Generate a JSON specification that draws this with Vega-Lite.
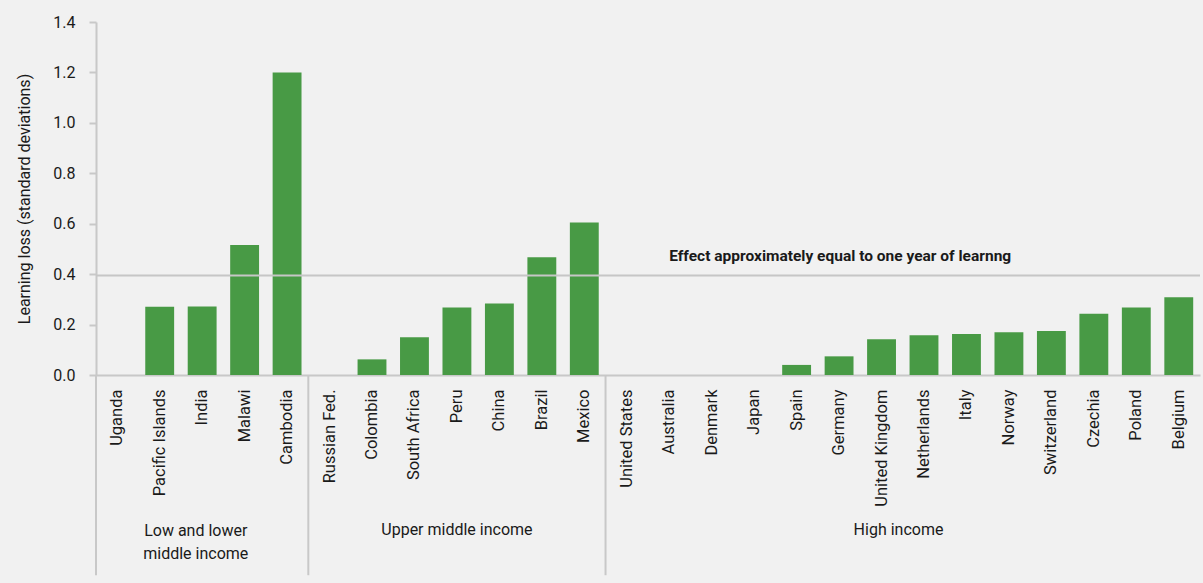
{
  "$schema": "https://vega.github.io/schema/vega-lite/v6.json",
  "width": 1104,
  "height": 353,
  "autosize": {"type": "none"},
  "padding": {"left": 96, "top": 22, "right": 3, "bottom": 208},
  "background": "#f1f1f1",
  "config": {
    "view": {"stroke": null},
    "font": "Roboto",
    "text": {"font": "Roboto", "color": "#1a1a1a", "fontWeight": "normal"}
  },
  "data": {
    "values": [
      {"country": "Uganda", "group": "Low and lower middle income", "value": 0},
      {"country": "Pacific Islands", "group": "Low and lower middle income", "value": 0.271},
      {"country": "India", "group": "Low and lower middle income", "value": 0.272},
      {"country": "Malawi", "group": "Low and lower middle income", "value": 0.516},
      {"country": "Cambodia", "group": "Low and lower middle income", "value": 1.2},
      {"country": "Russian Fed.", "group": "Upper middle income", "value": 0},
      {"country": "Colombia", "group": "Upper middle income", "value": 0.062},
      {"country": "South Africa", "group": "Upper middle income", "value": 0.15},
      {"country": "Peru", "group": "Upper middle income", "value": 0.268},
      {"country": "China", "group": "Upper middle income", "value": 0.284},
      {"country": "Brazil", "group": "Upper middle income", "value": 0.467},
      {"country": "Mexico", "group": "Upper middle income", "value": 0.605},
      {"country": "United States", "group": "High income", "value": 0},
      {"country": "Australia", "group": "High income", "value": 0},
      {"country": "Denmark", "group": "High income", "value": 0},
      {"country": "Japan", "group": "High income", "value": 0},
      {"country": "Spain", "group": "High income", "value": 0.04},
      {"country": "Germany", "group": "High income", "value": 0.074},
      {"country": "United Kingdom", "group": "High income", "value": 0.142},
      {"country": "Netherlands", "group": "High income", "value": 0.158},
      {"country": "Italy", "group": "High income", "value": 0.163},
      {"country": "Norway", "group": "High income", "value": 0.17},
      {"country": "Switzerland", "group": "High income", "value": 0.175},
      {"country": "Czechia", "group": "High income", "value": 0.243},
      {"country": "Poland", "group": "High income", "value": 0.268},
      {"country": "Belgium", "group": "High income", "value": 0.308}
    ]
  },
  "encoding": {
    "x": {
      "field": "country",
      "type": "nominal",
      "sort": null,
      "scale": {"paddingInner": 0, "paddingOuter": 0},
      "axis": {
        "title": null,
        "labelAngle": -90,
        "labelFont": "Roboto",
        "labelFontSize": 16.5,
        "labelColor": "#1a1a1a",
        "labelPadding": 14,
        "ticks": false,
        "domainColor": "#c8c8c8",
        "domainWidth": 2
      }
    }
  },
  "layer": [
    {
      "mark": {"type": "bar", "color": "#489a45", "width": {"band": 0.68}},
      "encoding": {
        "y": {
          "field": "value",
          "type": "quantitative",
          "scale": {"domain": [0, 1.4], "nice": false},
          "axis": {
            "title": "Learning loss (standard deviations)",
            "titleFont": "Roboto",
            "titleFontSize": 16,
            "titleFontWeight": "normal",
            "titleColor": "#1a1a1a",
            "titlePadding": 20,
            "values": [0, 0.2, 0.4, 0.6, 0.8, 1.0, 1.2, 1.4],
            "format": ".1f",
            "labelFont": "Roboto",
            "labelFontSize": 16,
            "labelColor": "#1a1a1a",
            "labelPadding": 14,
            "tickColor": "#c8c8c8",
            "tickSize": 7,
            "tickWidth": 2,
            "domainColor": "#c8c8c8",
            "domainWidth": 2,
            "grid": false
          }
        }
      }
    },
    {
      "data": {"values": [{}]},
      "mark": {"type": "rule", "color": "#c6c6c6", "strokeWidth": 2},
      "encoding": {"x": null, "y": {"datum": 0.395}}
    },
    {
      "data": {"values": [{}]},
      "mark": {"type": "text", "align": "left", "baseline": "alphabetic", "dy": -14, "fontSize": 15.5, "fontWeight": "bold", "text": "Effect approximately equal to one year of learnng"},
      "encoding": {"x": {"datum": "Australia"}, "y": {"datum": 0.395}}
    },
    {
      "transform": [
        {"window": [{"op": "row_number", "as": "rn"}], "groupby": ["group"]},
        {"filter": "datum.rn == 1"}
      ],
      "mark": {"type": "rule", "color": "#c8c8c8", "strokeWidth": 2},
      "encoding": {
        "x": {"field": "country", "type": "nominal", "sort": null, "bandPosition": 0},
        "y": {"datum": 0},
        "y2": {"datum": -0.794}
      }
    },
    {
      "data": {"values": [{}]},
      "mark": {"type": "text", "align": "center", "baseline": "middle", "dy": 156, "fontSize": 16, "text": "Low and lower"},
      "encoding": {"x": {"datum": "India", "bandPosition": 0.35}, "y": {"datum": 0}}
    },
    {
      "data": {"values": [{}]},
      "mark": {"type": "text", "align": "center", "baseline": "middle", "dy": 179, "fontSize": 16, "text": "middle income"},
      "encoding": {"x": {"datum": "India", "bandPosition": 0.35}, "y": {"datum": 0}}
    },
    {
      "data": {"values": [{}]},
      "mark": {"type": "text", "align": "center", "baseline": "middle", "dy": 155, "fontSize": 16, "text": "Upper middle income"},
      "encoding": {"x": {"datum": "Peru", "bandPosition": 0.5}, "y": {"datum": 0}}
    },
    {
      "data": {"values": [{}]},
      "mark": {"type": "text", "align": "center", "baseline": "middle", "dy": 155, "fontSize": 16, "text": "High income"},
      "encoding": {"x": {"datum": "United Kingdom", "bandPosition": 0.9}, "y": {"datum": 0}}
    }
  ]
}
